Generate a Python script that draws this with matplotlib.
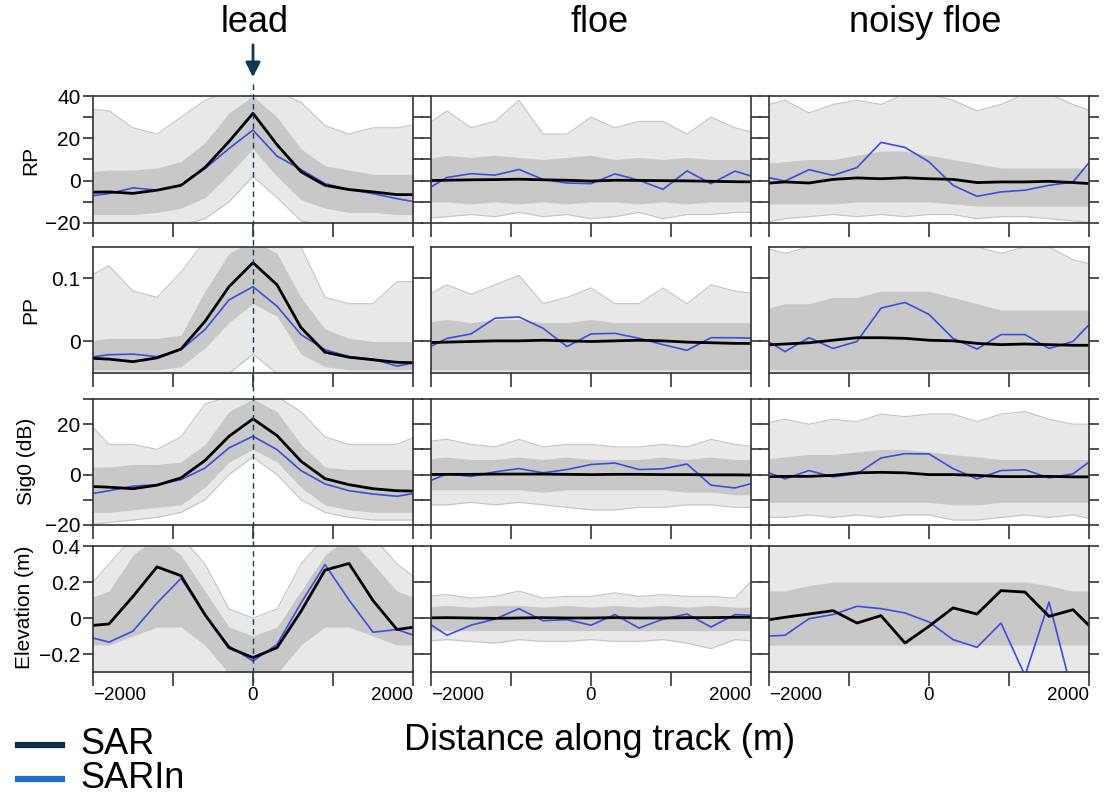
import matplotlib
matplotlib.use('Agg')
import matplotlib.pyplot as plt
from matplotlib.lines import Line2D
from matplotlib import transforms
import numpy as np

plt.rcParams['font.family'] = ['Liberation Sans', 'DejaVu Sans']

# along-track positions of the samples (m)
dist = np.arange(-2100, 2101, 300)

# ---- RP ----
lead_rp = dict(
    sar=[-5.5, -5.3, -6.0, -4.5, -2.2, 6.2, 18.5, 31.8, 17.0, 4.2, -2.2, -4.2, -5.3, -6.6, -6.6],
    sarin=[-7.5, -6.1, -3.4, -4.5, -2.2, 5.7, 15.2, 23.9, 11.6, 5.3, -1.4, -4.2, -6.1, -8.5, -10.5],
    hi=[34, 33, 25, 22, 30, 38, 42, 42, 42, 37, 26, 22, 25, 25, 27],
    lo=[-21, -21, -21, -21, -21, -18, -10, 2, -8, -19, -21, -21, -21, -21, -21],
    core_hi=[4, 5, 5, 6, 9, 18, 32, 40, 30, 15, 7, 5, 3, 3, 3],
    core_lo=[-16, -16, -16, -15, -13, -8, 3, 15, 2, -9, -13, -15, -15, -16, -16])
floe_rp = dict(
    sar=[0.0, 0.2, 0.4, 0.5, 0.7, 0.4, 0.2, -0.2, 0.2, 0.1, 0.0, -0.1, -0.3, -0.5, -0.6],
    sarin=[-5.2, 1.5, 3.3, 2.6, 5.3, 0.6, -1.1, -1.4, 3.2, 0.2, -4.1, 4.6, -1.4, 4.5, 1.0],
    hi=[25, 33, 25, 28, 38, 22, 22, 30, 25, 28, 28, 22, 30, 25, 22],
    lo=[-18, -17, -16, -17, -15, -17, -16, -18, -17, -15, -18, -16, -16, -15, -15],
    core_hi=[10, 12, 11, 12, 11, 10, 11, 12, 10, 11, 10, 11, 10, 10, 10],
    core_lo=[-10, -10, -11, -10, -11, -10, -11, -10, -10, -11, -10, -11, -10, -10, -10])
noisy_rp = dict(
    sar=[-1.4, -0.6, -1.1, 0.6, 1.3, 0.9, 1.4, 0.9, 0.6, -0.9, -0.6, -0.6, -0.3, -0.9, -1.6],
    sarin=[2.2, -0.2, 5.2, 2.5, 6.2, 18.1, 15.7, 8.9, -2.2, -7.4, -5.3, -4.5, -2.2, -0.6, 13.0],
    hi=[35, 38, 32, 36, 38, 36, 41, 41, 38, 33, 36, 41, 41, 36, 32],
    lo=[-20, -18, -17, -16, -17, -16, -17, -16, -16, -18, -17, -17, -18, -19, -20],
    core_hi=[8, 9, 10, 10, 12, 14, 14, 12, 10, 8, 6, 6, 6, 6, 6],
    core_lo=[-11, -11, -11, -11, -10, -10, -10, -10, -11, -12, -12, -12, -12, -12, -12])

# ---- PP ----
lead_pp = dict(
    sar=[-0.026, -0.028, -0.032, -0.026, -0.012, 0.032, 0.087, 0.125, 0.090, 0.022, -0.017, -0.025, -0.029, -0.033, -0.034],
    sarin=[-0.026, -0.021, -0.020, -0.024, -0.013, 0.019, 0.066, 0.087, 0.056, 0.011, -0.013, -0.024, -0.028, -0.039, -0.032],
    hi=[0.10, 0.12, 0.08, 0.07, 0.11, 0.16, 0.16, 0.16, 0.16, 0.15, 0.07, 0.06, 0.06, 0.095, 0.095],
    lo=[-0.051, -0.051, -0.051, -0.051, -0.051, -0.051, -0.051, -0.02, -0.051, -0.051, -0.051, -0.051, -0.051, -0.051, -0.051],
    core_hi=[0.0, 0.005, 0.005, 0.005, 0.01, 0.08, 0.14, 0.16, 0.14, 0.07, 0.02, 0.005, 0.0, 0.0, 0.0],
    core_lo=[-0.045, -0.045, -0.045, -0.045, -0.04, -0.01, 0.03, 0.06, 0.04, -0.02, -0.04, -0.045, -0.045, -0.045, -0.045])
floe_pp = dict(
    sar=[-0.002, -0.001, 0.0, 0.001, 0.001, 0.002, 0.001, 0.0, 0.001, 0.002, 0.001, -0.001, -0.002, -0.003, -0.003],
    sarin=[-0.014, 0.005, 0.012, 0.037, 0.039, 0.021, -0.008, 0.012, 0.013, 0.005, -0.005, -0.014, 0.006, 0.006, 0.005],
    hi=[0.07, 0.09, 0.075, 0.09, 0.105, 0.06, 0.07, 0.085, 0.06, 0.06, 0.085, 0.06, 0.09, 0.08, 0.075],
    lo=[-0.051] * 15,
    core_hi=[0.03, 0.035, 0.03, 0.035, 0.035, 0.03, 0.03, 0.035, 0.03, 0.03, 0.03, 0.03, 0.03, 0.03, 0.03],
    core_lo=[-0.045] * 15)
noisy_pp = dict(
    sar=[-0.006, -0.004, -0.002, 0.002, 0.006, 0.006, 0.005, 0.002, 0.001, -0.003, -0.005, -0.004, -0.005, -0.006, -0.006],
    sarin=[0.007, -0.016, 0.006, -0.011, 0.0, 0.053, 0.062, 0.043, 0.005, -0.012, 0.011, 0.011, -0.011, 0.0, 0.04],
    hi=[0.15, 0.14, 0.15, 0.15, 0.15, 0.15, 0.16, 0.16, 0.16, 0.15, 0.14, 0.15, 0.15, 0.13, 0.12],
    lo=[-0.051] * 15,
    core_hi=[0.05, 0.06, 0.06, 0.07, 0.07, 0.08, 0.08, 0.08, 0.07, 0.06, 0.05, 0.05, 0.05, 0.05, 0.05],
    core_lo=[-0.045] * 15)

# ---- Sig0 ----
lead_sig = dict(
    sar=[-4.6, -5.0, -5.6, -4.2, -1.3, 5.6, 15.2, 22.1, 15.5, 5.3, -1.6, -4.0, -5.6, -6.4, -6.6],
    sarin=[-8.0, -6.4, -4.6, -4.0, -2.0, 2.6, 10.6, 15.2, 9.9, 1.6, -3.7, -6.4, -7.7, -8.6, -7.0],
    hi=[22, 12, 12, 10, 15, 28, 31, 31, 31, 25, 15, 12, 12, 12, 16],
    lo=[-20, -19, -18, -17, -15, -10, 0, 7, 0, -10, -15, -17, -18, -18, -18],
    core_hi=[3, 3, 4, 4, 5, 12, 25, 30, 25, 12, 3, 2, 2, 2, 2],
    core_lo=[-15, -15, -14, -13, -12, -5, 5, 10, 5, -5, -12, -14, -15, -15, -15])
floe_sig = dict(
    sar=[0.0, 0.1, 0.1, 0.2, 0.2, 0.2, 0.1, 0.0, 0.1, 0.1, 0.0, 0.0, -0.1, -0.1, -0.2],
    sarin=[-3.6, 0.3, -0.7, 1.1, 2.4, 0.7, 2.0, 4.0, 4.6, 2.0, 2.3, 4.2, -4.2, -5.3, -2.75],
    hi=[13, 14, 12, 11, 14, 11, 12, 12, 11, 11, 12, 11, 14, 12, 11],
    lo=[-12, -12, -11, -12, -11, -12, -13, -14, -14, -13, -13, -12, -12, -13, -13],
    core_hi=[6, 7, 6, 6, 7, 6, 7, 6, 6, 6, 7, 6, 7, 6, 6],
    core_lo=[-6, -6, -6, -6, -6, -7, -6, -6, -6, -6, -6, -7, -7, -8, -8])
noisy_sig = dict(
    sar=[-0.9, -0.7, -0.7, -0.3, 0.7, 0.9, 0.7, 0.0, 0.0, -0.3, -0.8, -0.8, -0.7, -0.9, -0.9],
    sarin=[1.9, -1.7, 1.6, -0.9, 0.3, 6.6, 8.3, 8.2, 2.4, -1.7, 1.6, 1.9, -1.3, 0.3, 7.3],
    hi=[20, 22, 20, 22, 21, 24, 23, 24, 24, 21, 24, 25, 22, 20, 20],
    lo=[-17, -17, -16, -17, -16, -17, -16, -16, -18, -18, -17, -16, -17, -16, -18],
    core_hi=[6, 7, 8, 8, 9, 10, 10, 9, 8, 7, 6, 6, 6, 6, 6],
    core_lo=[-11, -11, -11, -11, -11, -11, -11, -11, -12, -12, -11, -11, -11, -11, -11])

# ---- Elevation ----
lead_elev = dict(
    sar=[-0.045, -0.033, 0.12, 0.284, 0.235, 0.018, -0.165, -0.22, -0.165, 0.037, 0.266, 0.303, 0.097, -0.064, -0.045],
    sarin=[-0.10, -0.134, -0.073, 0.083, 0.22, 0.018, -0.156, -0.239, -0.147, 0.083, 0.297, 0.10, -0.079, -0.064, -0.11],
    hi=[0.15, 0.3, 0.45, 0.45, 0.45, 0.3, 0.05, 0.0, 0.05, 0.3, 0.45, 0.45, 0.45, 0.3, 0.2],
    lo=[-0.31] * 15,
    core_hi=[0.1, 0.15, 0.35, 0.45, 0.35, 0.15, -0.05, -0.1, -0.05, 0.15, 0.35, 0.45, 0.3, 0.15, 0.1],
    core_lo=[-0.15, -0.15, -0.1, -0.05, -0.05, -0.15, -0.31, -0.31, -0.31, -0.15, -0.05, -0.05, -0.1, -0.15, -0.15])
floe_elev = dict(
    sar=[0.0, 0.002, 0.0, -0.002, 0.0, 0.002, 0.0, 0.0, 0.002, 0.0, 0.0, 0.002, 0.002, 0.004, 0.004],
    sarin=[-0.008, -0.096, -0.04, -0.006, 0.052, -0.015, -0.009, -0.04, 0.019, -0.056, -0.006, 0.022, -0.05, 0.019, 0.013],
    hi=[0.12, 0.13, 0.11, 0.12, 0.15, 0.11, 0.12, 0.12, 0.14, 0.12, 0.13, 0.12, 0.12, 0.11, 0.25],
    lo=[-0.13, -0.12, -0.13, -0.14, -0.12, -0.13, -0.13, -0.12, -0.13, -0.13, -0.12, -0.14, -0.17, -0.12, -0.13],
    core_hi=[0.06, 0.07, 0.06, 0.07, 0.07, 0.06, 0.07, 0.06, 0.07, 0.06, 0.07, 0.06, 0.07, 0.06, 0.06],
    core_lo=[-0.07] * 15)
noisy_elev = dict(
    sar=[-0.016, 0.004, 0.022, 0.041, -0.028, 0.013, -0.139, -0.046, 0.056, 0.022, 0.152, 0.144, 0.009, 0.046, -0.085],
    sarin=[-0.102, -0.096, -0.004, 0.019, 0.065, 0.052, 0.028, -0.022, -0.12, -0.163, -0.028, -0.32, 0.089, -0.43, -0.5],
    hi=[0.42] * 15,
    lo=[-0.31] * 15,
    core_hi=[0.15, 0.15, 0.18, 0.2, 0.2, 0.2, 0.2, 0.2, 0.2, 0.2, 0.2, 0.2, 0.18, 0.15, 0.15],
    core_lo=[-0.15] * 15)

panels = [[lead_rp, floe_rp, noisy_rp],
          [lead_pp, floe_pp, noisy_pp],
          [lead_sig, floe_sig, noisy_sig],
          [lead_elev, floe_elev, noisy_elev]]
col_titles = ['lead', 'floe', 'noisy floe']
row_labels = ['RP', 'PP', 'Sig0 (dB)', 'Elevation (m)']
ylims = [(-20, 40), (-0.05, 0.15), (-20, 30), (-0.3, 0.4)]
yticks = [[-20, -10, 0, 10, 20, 30, 40], [0, 0.1], [-20, -10, 0, 10, 20, 30], [-0.2, 0, 0.2, 0.4]]
ytick_labels = [['−20', '', '0', '', '20', '', '40'], ['0', '0.1'],
                ['−20', '', '0', '', '20', ''], ['−0.2', '0', '0.2', '0.4']]
xticks = [-2000, -1000, 0, 1000, 2000]
xtick_labels = ['−2000', '', '0', '', '2000']

W, H = 1116, 797
fig = plt.figure(figsize=(W / 100, H / 100), dpi=100)
col_px = [(93, 413), (431, 751), (769, 1089)]
row_px = [(96, 223), (247, 373), (399, 525), (546, 672)]

gray_line = '#c4c4c4'
blue = '#3a4edc'
axes = []
for r in range(4):
    row_axes = []
    for c in range(3):
        p = panels[r][c]
        x0, x1 = col_px[c]
        y0, y1 = row_px[r]
        ax = fig.add_axes([x0 / W, 1 - y1 / H, (x1 - x0) / W, (y1 - y0) / H])
        ax.fill_between(dist, p['lo'], p['hi'], color='#e8e8e8', lw=0)
        ax.fill_between(dist, p['core_lo'], p['core_hi'], color='#c8c8c8', lw=0)
        ax.plot(dist, p['hi'], color=gray_line, lw=0.8)
        ax.plot(dist, p['lo'], color=gray_line, lw=0.8)
        ax.plot(dist, p['sarin'], color=blue, lw=1.2)
        ax.plot(dist, p['sar'], color='black', lw=2)
        ax.set_xlim(-2000, 2000)
        ax.set_ylim(*ylims[r])
        ax.set_yticks(yticks[r])
        ax.set_xticks(xticks)
        ax.tick_params(axis='y', direction='out', length=7, width=1.2, left=True, right=True,
                       labelsize=15, colors='#333333', labelcolor='black', pad=2)
        ax.tick_params(axis='x', direction='out', length=10, width=1.2, labelsize=13.5,
                       colors='#333333', labelcolor='black', pad=1)
        if c == 0:
            ax.set_yticklabels(ytick_labels[r])
        else:
            ax.set_yticklabels([])
        if r == 3:
            ax.set_xticklabels(xtick_labels)
            labels = ax.get_xticklabels()
            labels[0].set_horizontalalignment('left')
            labels[-1].set_horizontalalignment('right')
        else:
            ax.set_xticklabels([])
        for s in ax.spines.values():
            s.set_color('#333333')
            s.set_linewidth(1.2)
        row_axes.append(ax)
    axes.append(row_axes)

# column titles
for txt, xc in zip(col_titles, [255, 600, 925]):
    fig.text(xc / W, 1 - 22 / H, txt, ha='center', va='center', fontsize=26)

# row labels
for txt, xc, yc in zip(row_labels, [31, 31, 27, 25], [160, 310, 461, 607]):
    fig.text(xc / W, 1 - yc / H, txt, ha='center', va='center', rotation=90, fontsize=15)

fig.text(600 / W, 1 - 740 / H, 'Distance along track (m)', ha='center', va='center', fontsize=26)

# arrow and dashed line marking the lead centre
lead_ax = axes[0][0]
trans = transforms.blended_transform_factory(lead_ax.transData, fig.transFigure)
fig.add_artist(Line2D([0, 0], [1 - 84 / H, 1 - 686 / H], transform=trans,
                      color='#1b3b4b', lw=1, ls=(0, (4, 3))))
lead_ax.annotate('', xy=(0, 1 - 80 / H), xytext=(0, 1 - 42 / H),
                 xycoords=trans, textcoords=trans,
                 arrowprops=dict(arrowstyle='-|>', color='#0d3a4f', lw=2, mutation_scale=22))

# legend
fig.add_artist(Line2D([18 / W, 62 / W], [1 - 745 / H] * 2, color='#0d2d40', lw=4.5))
fig.add_artist(Line2D([18 / W, 62 / W], [1 - 779 / H] * 2, color='#1f6fd0', lw=4.5))
fig.text(80 / W, 1 - 745 / H, 'SAR', va='center', fontsize=26)
fig.text(80 / W, 1 - 779 / H, 'SARIn', va='center', fontsize=26)

plt.savefig('out.png', dpi=100)
plt.close('all')
